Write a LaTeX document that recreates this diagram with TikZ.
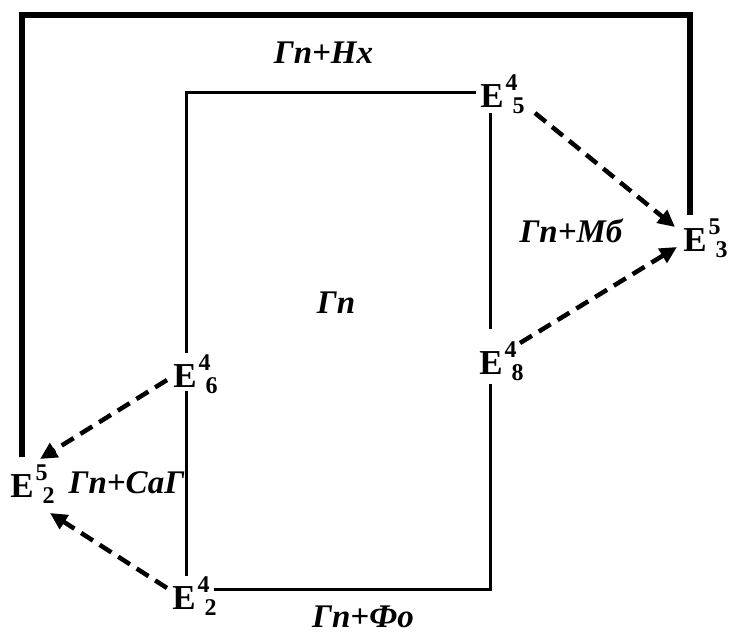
\documentclass[tikz,border=0pt]{standalone}
\usepackage{fontspec}
\setmainfont{Liberation Serif}
\usetikzlibrary{arrows.meta,calc}
\newcommand\Elev[2]{E\rlap{\smash{\kern2pt\raisebox{17pt}{\fontsize{24}{24}\selectfont #1}}}\rlap{\smash{\kern9pt\raisebox{-6pt}{\fontsize{24}{24}\selectfont #2}}}}
\begin{document}
\begin{tikzpicture}[x=1pt,y=-1pt,
  lev/.style={inner sep=0pt, font=\fontsize{35}{35}\selectfont\bfseries},
  lab/.style={inner sep=0pt, anchor=base, font=\fontsize{33}{33}\selectfont\bfseries\itshape},
  frame/.style={line width=6pt, line join=miter},
  thinl/.style={line width=3pt, line join=miter},
  dasharrow/.style={line width=4.5pt, dash pattern=on 14pt off 8pt, -{Triangle[length=17pt,width=16pt]}}
]
\useasboundingbox (0,0) rectangle (732,633);
\node[lev] (E45) at (492,96.5) {\Elev{4}{5}};
\node[lev] (E53) at (695,240) {\Elev{5}{3}};
\node[lev] (E48) at (491,363) {\Elev{4}{8}};
\node[lev] (E46) at (185,376) {\Elev{4}{6}};
\node[lev] (E52) at (22,486) {\Elev{5}{2}};
\node[lev] (E42) at (184,598) {\Elev{4}{2}};
\coordinate (ftl) at (22,15);
\coordinate (ftr) at (690,15);
\coordinate (itl) at (186,92);
\coordinate (ibr) at (490,589);
\draw[frame] ($(ftl |- E52.north)+(0,-17)$) -- (ftl) -- (ftr) -- ($(ftr |- E53.north)+(0,-13)$);
\draw[thinl] ($(itl |- E46.north)+(0,-11)$) -- (itl) -- ($(itl -| E45.west)+(-4,0)$);
\draw[thinl] ($(itl |- E46.south)+(0,3)$) -- ($(itl |- E42.north)+(0,-10)$);
\draw[thinl] ($(ibr |- E45.south)+(0,5)$) -- ($(ibr |- E48.north)+(0,-22)$);
\draw[thinl] ($(ibr |- E48.south)+(0,9)$) -- (ibr) -- ($(ibr -| E42.east)+(18,0)$);
\draw[dasharrow] ($(E45)+(43,16.5)$) -- ($(E53)+(-20,-13)$);
\draw[dasharrow] ($(E48)+(29,-20)$) -- ($(E53)+(-18,7)$);
\draw[dasharrow] ($(E46)+(-18,4)$) -- ($(E52)+(18,-27)$);
\draw[dasharrow] ($(E42)+(-17,-10)$) -- ($(E52)+(28,27)$);
\node[lab] (Lnx) at (323.5,63) {Гп+Нх};
\node[lab] (Lmb) at (571,242) {Гп+Мб};
\node[lab] (Lgp) at (336,313) {Гп};
\node[lab] (Lsg) at (126.5,493) {Гп+СаГ};
\node[lab] (Lfo) at (363,627) {Гп+Фо};
\end{tikzpicture}
\end{document}
